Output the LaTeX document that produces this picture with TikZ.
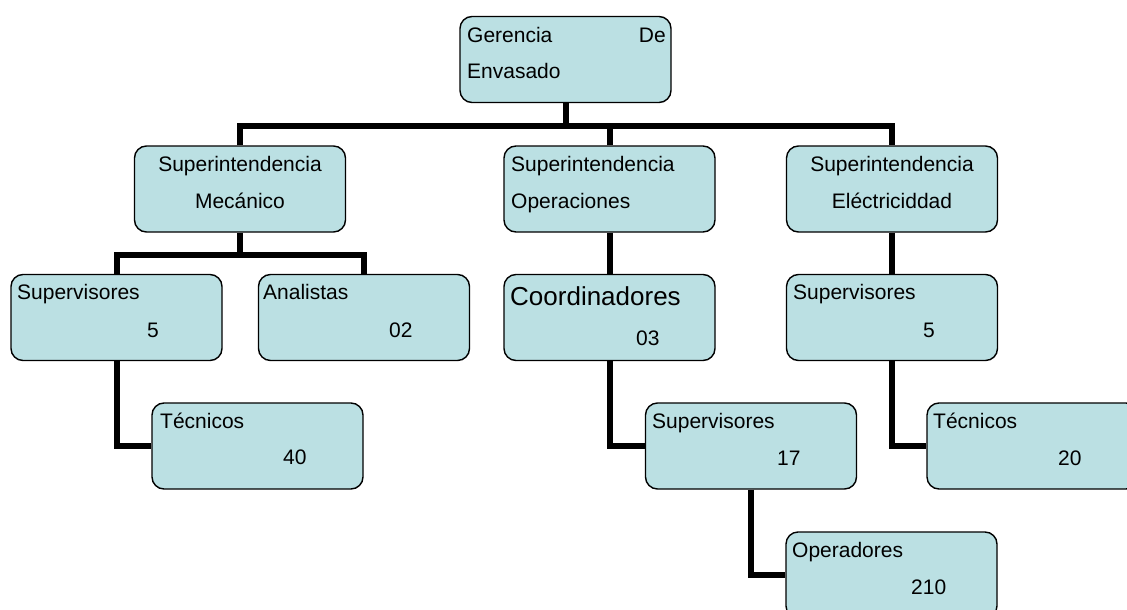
\documentclass[tikz,border=0pt]{standalone}
\usepackage{fontspec}
\setmainfont{Liberation Sans}
\definecolor{boxfill}{RGB}{187,224,227}
\begin{document}
\begin{tikzpicture}[x=1pt,y=-1pt,
  orgbox/.style={draw=black,line width=1.4pt,fill=boxfill,rounded corners=12pt,
    minimum width=211pt,minimum height=86pt,inner sep=0pt},
  conn/.style={line width=6pt,black,line join=miter},
  lbl/.style={inner sep=0pt,font=\fontsize{21}{25}\selectfont},
  biglbl/.style={inner sep=0pt,font=\fontsize{26}{30}\selectfont}]
\useasboundingbox (0,0) rectangle (1127,610);
\clip (0,0) rectangle (1127,610);
% boxes (positions)
\coordinate (pger) at (565.5,59.5);
\coordinate (pmec) at (240,189);
\coordinate (pope) at (609.5,189);
\coordinate (pele) at (892,189);
\coordinate (psupL) at (116.5,317.5);
\coordinate (pana) at (364,317.5);
\coordinate (pcoo) at (609.5,317.5);
\coordinate (psupR) at (892,317.5);
\coordinate (ptecL) at (257.5,446);
\coordinate (psupC) at (751,446);
\coordinate (ptecR) at (1032.5,446);
\coordinate (popr) at (891.5,575);
% invisible anchors for connectors
\node[orgbox,draw=none,fill=none] (ger) at (pger) {};
\node[orgbox,draw=none,fill=none] (mec) at (pmec) {};
\node[orgbox,draw=none,fill=none] (ope) at (pope) {};
\node[orgbox,draw=none,fill=none] (ele) at (pele) {};
\node[orgbox,draw=none,fill=none] (supL) at (psupL) {};
\node[orgbox,draw=none,fill=none] (ana) at (pana) {};
\node[orgbox,draw=none,fill=none] (coo) at (pcoo) {};
\node[orgbox,draw=none,fill=none] (supR) at (psupR) {};
\node[orgbox,draw=none,fill=none] (tecL) at (ptecL) {};
\node[orgbox,draw=none,fill=none] (supC) at (psupC) {};
\node[orgbox,draw=none,fill=none] (tecR) at (ptecR) {};
\node[orgbox,draw=none,fill=none] (opr) at (popr) {};
% connectors
\coordinate (b1) at (240,125.5);
\coordinate (b2) at (892,125.5);
\draw[conn] (mec.north) -- (b1) -- (b2) -- (ele.north);
\draw[conn] (ger.south) -- (ger.south |- b1);
\draw[conn] (ope.north) -- (ope.north |- b1);
\coordinate (m1) at (116.5,255);
\coordinate (m2) at (364,255);
\draw[conn] (supL.north) -- (m1) -- (m2) -- (ana.north);
\draw[conn] (mec.south) -- (mec.south |- m1);
\draw[conn] (supL.south) |- (tecL.west);
\draw[conn] (ope.south) -- (coo.north);
\draw[conn] (coo.south) |- (supC.west);
\draw[conn] (supC.south) |- (opr.west);
\draw[conn] (ele.south) -- (supR.north);
\draw[conn] (supR.south) |- (tecR.west);
% visible boxes
\node[orgbox] (gerB) at (pger) {};
\node[orgbox] (mecB) at (pmec) {};
\node[orgbox] (opeB) at (pope) {};
\node[orgbox] (eleB) at (pele) {};
\node[orgbox] (supLB) at (psupL) {};
\node[orgbox] (anaB) at (pana) {};
\node[orgbox] (cooB) at (pcoo) {};
\node[orgbox] (supRB) at (psupR) {};
\node[orgbox] (tecLB) at (ptecL) {};
\node[orgbox] (supCB) at (psupC) {};
\node[orgbox] (tecRB) at (ptecR) {};
\node[orgbox] (oprB) at (popr) {};
% texts
\node[lbl,anchor=base west] (t1) at (467,43) {Gerencia};
\node[lbl,anchor=base east] (t2) at (666,43) {De};
\node[lbl,anchor=base west] (t3) at (467,78) {Envasado};
\node[lbl,anchor=base] (t4) at (240,171) {Superintendencia};
\node[lbl,anchor=base] (t5) at (240,208) {Mecánico};
\node[lbl,anchor=base west] (t6) at (511,171) {Superintendencia};
\node[lbl,anchor=base west] (t7) at (511,208) {Operaciones};
\node[lbl,anchor=base] (t8) at (892,171) {Superintendencia};
\node[lbl,anchor=base] (t9) at (892,208) {Eléctriciddad};
\node[lbl,anchor=base west] (t10) at (17,299) {Supervisores};
\node[lbl,anchor=base west] (t11) at (147,337) {5};
\node[lbl,anchor=base west] (t12) at (263,299) {Analistas};
\node[lbl,anchor=base west] (t13) at (389,337) {02};
\node[biglbl,anchor=base west] (t14) at (510,305) {Coordinadores};
\node[lbl,anchor=base west] (t15) at (636,345) {03};
\node[lbl,anchor=base west] (t16) at (793,299) {Supervisores};
\node[lbl,anchor=base west] (t17) at (923,337) {5};
\node[lbl,anchor=base west] (t18) at (160,428) {Técnicos};
\node[lbl,anchor=base west] (t19) at (283,464) {40};
\node[lbl,anchor=base west] (t20) at (652,428) {Supervisores};
\node[lbl,anchor=base west] (t21) at (777,465) {17};
\node[lbl,anchor=base west] (t22) at (933,428) {Técnicos};
\node[lbl,anchor=base west] (t23) at (1058,465) {20};
\node[lbl,anchor=base west] (t24) at (792,557) {Operadores};
\node[lbl,anchor=base west] (t25) at (911,594) {210};
\end{tikzpicture}
\end{document}
